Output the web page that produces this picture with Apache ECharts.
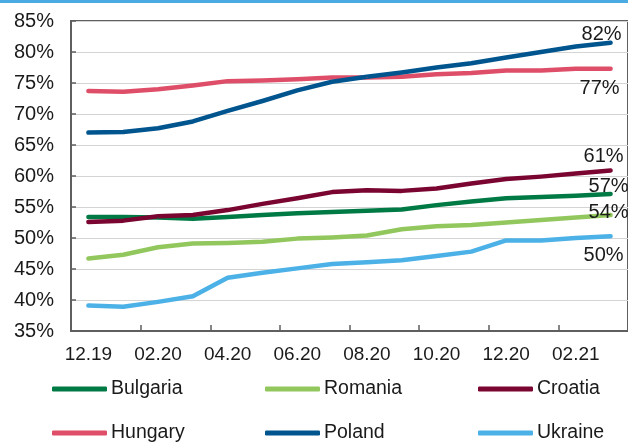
<!DOCTYPE html>
<html>
<head>
<meta charset="utf-8">
<script src="https://cdn.jsdelivr.net/npm/echarts@6/dist/echarts.min.js"></script>
<style>
html,body{margin:0;padding:0;background:#fff;}
#chart{width:628px;height:444px;}
</style>
</head>
<body>
<div id="chart"></div>
<script>
const categories = ['12.19','01.20','02.20','03.20','04.20','05.20','06.20','07.20','08.20','09.20','10.20','11.20','12.20','01.21','02.21','03.21'];
const seriesNames = ['Bulgaria','Romania','Croatia','Hungary','Poland','Ukraine'];
const bulgaria = [53.4, 53.4, 53.3, 53.1, 53.4, 53.7, 54.0, 54.2, 54.4, 54.6, 55.3, 55.9, 56.4, 56.6, 56.8, 57.1];
const romania  = [46.7, 47.3, 48.5, 49.1, 49.2, 49.4, 49.9, 50.1, 50.4, 51.4, 51.9, 52.1, 52.5, 52.9, 53.3, 53.7];
const croatia  = [52.6, 52.8, 53.5, 53.7, 54.5, 55.5, 56.4, 57.4, 57.7, 57.6, 58.0, 58.8, 59.5, 59.9, 60.4, 60.9];
const hungary  = [73.7, 73.6, 74.0, 74.6, 75.3, 75.4, 75.6, 75.9, 75.9, 76.0, 76.4, 76.6, 77.0, 77.0, 77.3, 77.3];
const poland   = [67.0, 67.1, 67.7, 68.8, 70.5, 72.1, 73.8, 75.2, 76.0, 76.7, 77.5, 78.2, 79.1, 80.0, 80.9, 81.5];
const ukraine  = [39.1, 38.9, 39.7, 40.6, 43.6, 44.4, 45.1, 45.8, 46.1, 46.4, 47.1, 47.8, 49.6, 49.6, 50.0, 50.3];
const endLabels = ['57%','54%','61%','77%','82%','50%'];

const values = [bulgaria, romania, croatia, hungary, poland, ukraine];
const colors = ['#007A45','#92C75E','#7A0530','#DF4E68','#00558F','#4BB1E6'];
const labelOffsets = [[-2,-7],[-2,-3],[-7,-14],[-11,20],[-9,-8],[-7,19]];
const legendPos = [[52,379],[265,379],[478,379],[52,423],[265,423],[478,423]];
const FONT = '"Liberation Sans", Arial, sans-serif';

const chart = echarts.init(document.getElementById('chart'), null, {renderer:'canvas'});

const series = seriesNames.map((name, k) => ({
  name: name,
  type: 'line',
  data: values[k].map((v, i) => i === values[k].length - 1 ? {
    value: v,
    label: {
      show: true,
      position: 'inside',
      offset: labelOffsets[k],
      formatter: endLabels[k],
      fontSize: 20,
      fontFamily: FONT,
      color: '#1a1a1a'
    }
  } : v),
  symbol: 'circle',
  symbolSize: 1,
  showSymbol: true,
  showAllSymbol: true,
  smooth: false,
  label: { show: false },
  lineStyle: { color: colors[k], width: 4.5, cap: 'round', join: 'round' },
  itemStyle: { color: colors[k] },
  z: 3
}));

const legends = seriesNames.map((name, k) => ({
  data: [{ name: name, icon: 'roundRect' }],
  left: legendPos[k][0],
  top: legendPos[k][1],
  itemWidth: 55,
  itemHeight: 5,
  padding: 0,
  textStyle: { fontSize: 19.5, fontFamily: FONT, color: '#1a1a1a', padding: [0,0,0,-1] }
}));

chart.setOption({
  animation: false,
  backgroundColor: '#ffffff',
  textStyle: { fontFamily: FONT },
  graphic: [{
    type: 'rect',
    shape: { x: 0, y: 0, width: 628, height: 3 },
    style: { fill: '#4AABE3' },
    silent: true
  }],
  grid: {
    left: 71, right: -8, top: 21, bottom: 113,
    show: true, borderColor: '#5f5f5f', borderWidth: 2
  },
  legend: legends,
  xAxis: {
    type: 'category',
    data: categories,
    boundaryGap: true,
    axisLine: { show: true, lineStyle: { color: '#5f5f5f', width: 2 } },
    axisTick: { show: true, inside: true, length: 6, interval: 1, alignWithLabel: false, lineStyle: { color: '#5f5f5f', width: 1.5 } },
    axisLabel: { interval: 1, margin: 14, fontSize: 19, fontFamily: FONT, color: '#1a1a1a' },
    splitLine: { show: false }
  },
  yAxis: {
    type: 'value',
    min: 35, max: 85, interval: 5,
    axisLine: { show: true, lineStyle: { color: '#5f5f5f', width: 2 } },
    axisTick: { show: true, inside: true, length: 5, lineStyle: { color: '#5f5f5f', width: 1.5 } },
    axisLabel: { formatter: '{value}%', margin: 17, fontSize: 20, fontFamily: FONT, color: '#1a1a1a' },
    splitLine: { show: true, lineStyle: { color: '#d4d4d4', width: 1.2 } }
  },
  series: series
});
</script>
</body>
</html>
